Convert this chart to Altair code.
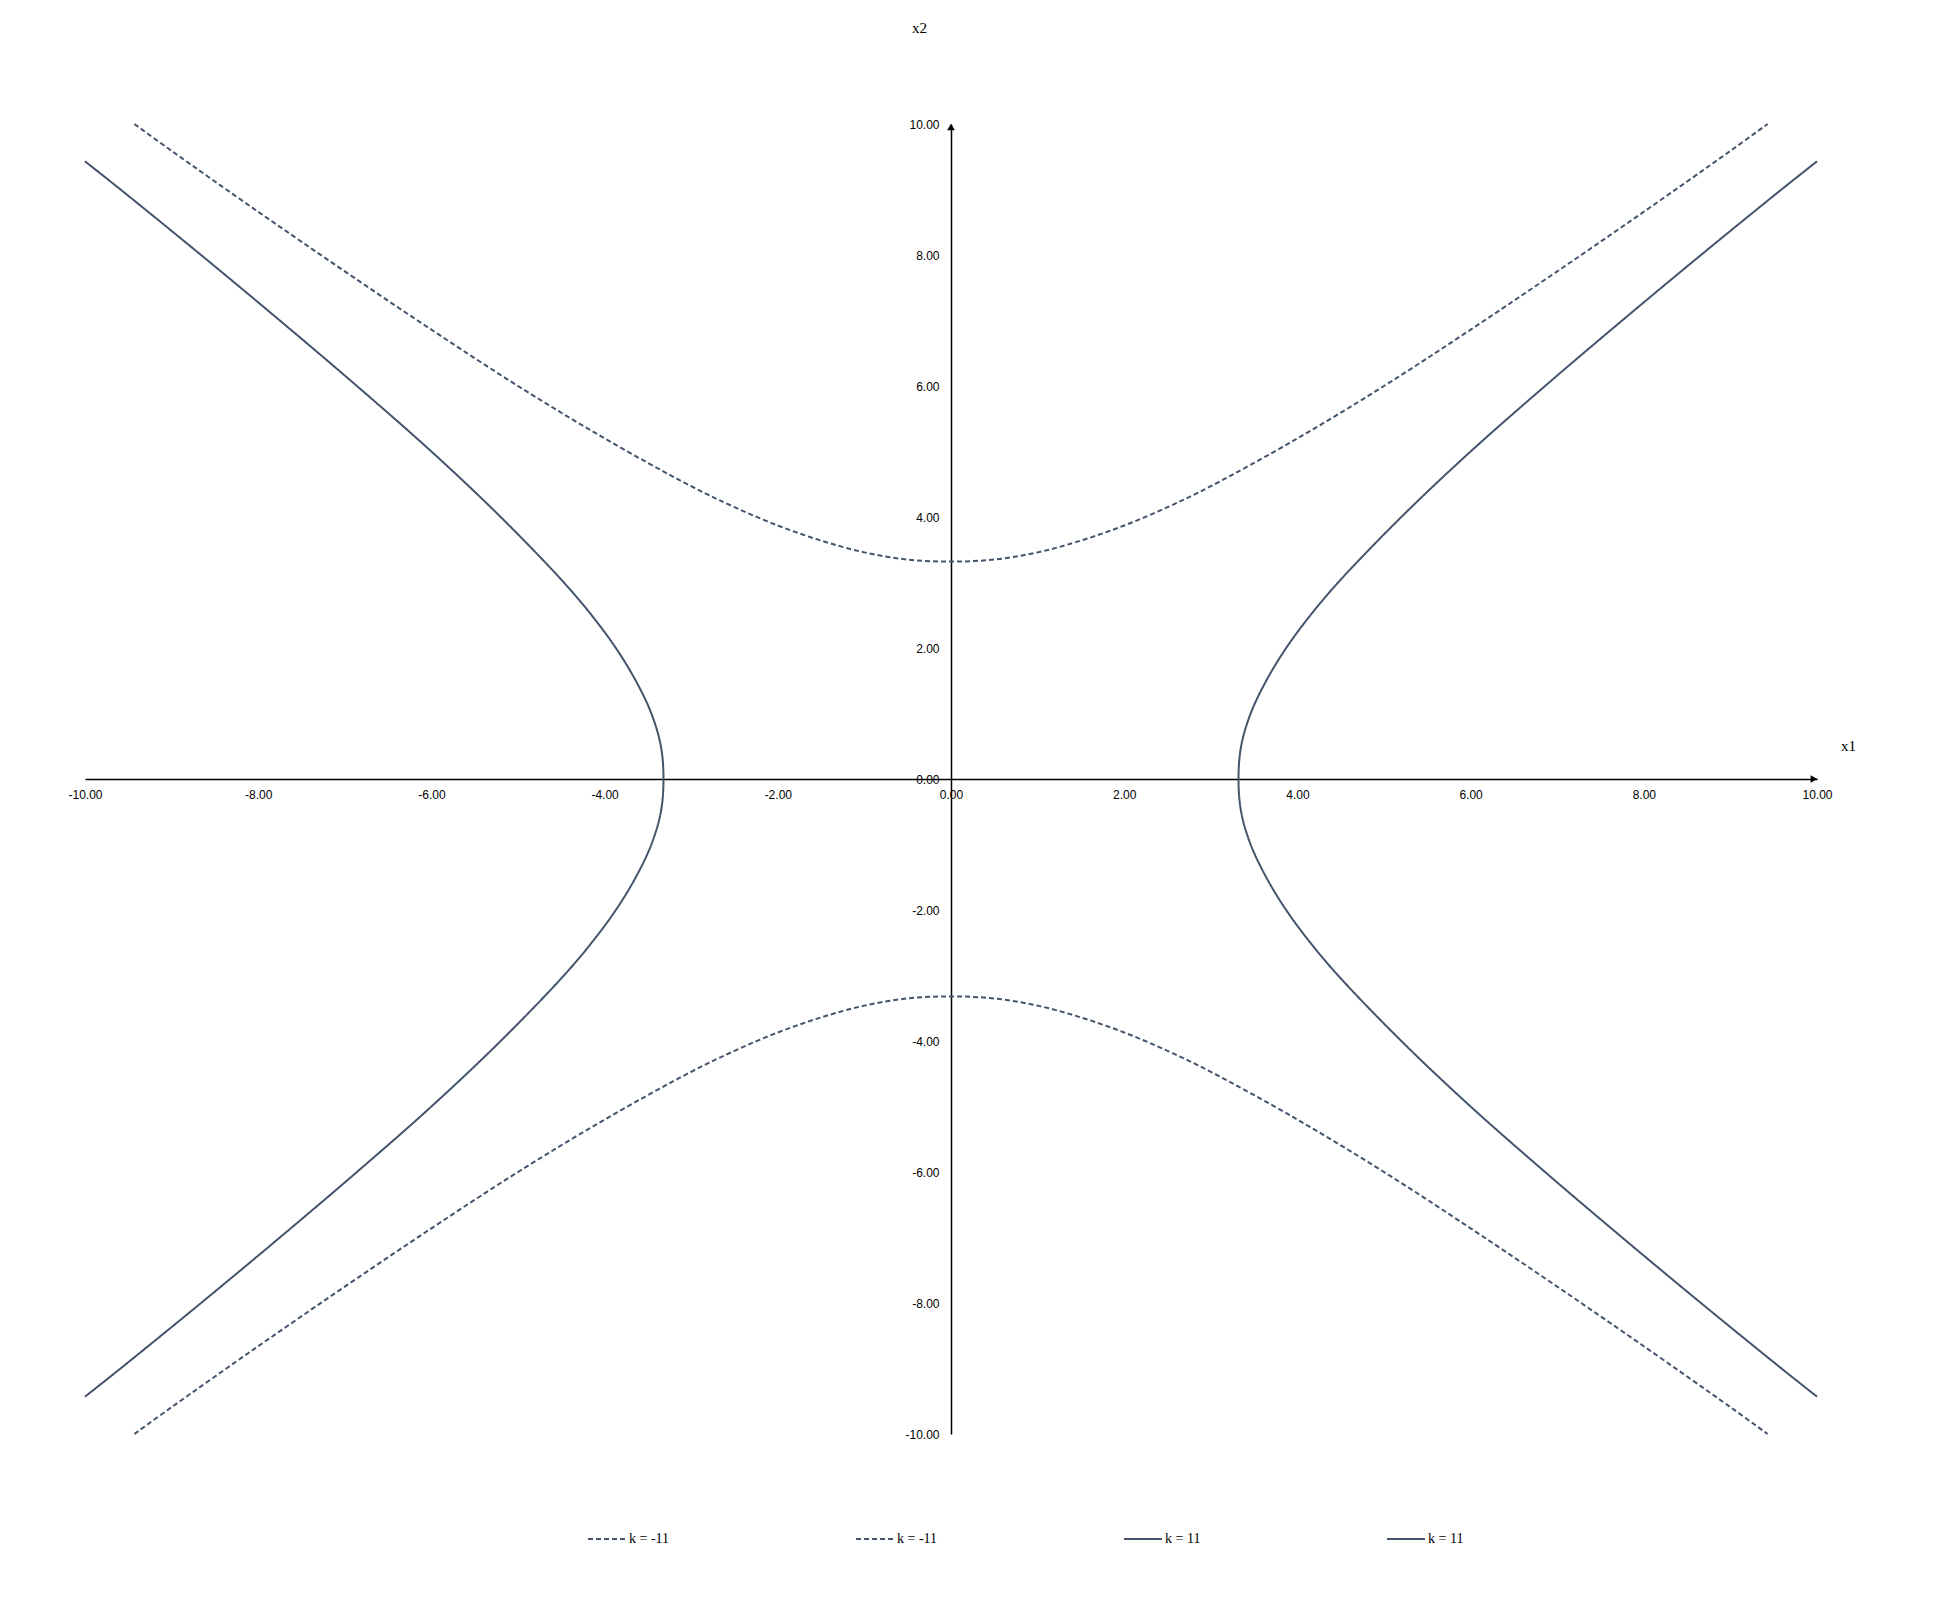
import altair as alt
import pandas as pd

# k = -11, upper branch (x1, x2)
up_x1 = [-9.43, -9.0, -8.0, -7.0, -6.0, -5.0, -4.0, -3.0, -2.5, -2.0, -1.5, -1.0, -0.5, 0.0,
         0.5, 1.0, 1.5, 2.0, 2.5, 3.0, 4.0, 5.0, 6.0, 7.0, 8.0, 9.0, 9.43]
up_x2 = [10.00, 9.59, 8.66, 7.75, 6.86, 6.00, 5.20, 4.47, 4.15, 3.87, 3.64, 3.46, 3.35, 3.32,
         3.35, 3.46, 3.64, 3.87, 4.15, 4.47, 5.20, 6.00, 6.86, 7.75, 8.66, 9.59, 10.00]
# k = -11, lower branch
lo_x1 = [-9.43, -9.0, -8.0, -7.0, -6.0, -5.0, -4.0, -3.0, -2.5, -2.0, -1.5, -1.0, -0.5, 0.0,
         0.5, 1.0, 1.5, 2.0, 2.5, 3.0, 4.0, 5.0, 6.0, 7.0, 8.0, 9.0, 9.43]
lo_x2 = [-10.00, -9.59, -8.66, -7.75, -6.86, -6.00, -5.20, -4.47, -4.15, -3.87, -3.64, -3.46, -3.35, -3.32,
         -3.35, -3.46, -3.64, -3.87, -4.15, -4.47, -5.20, -6.00, -6.86, -7.75, -8.66, -9.59, -10.00]
# k = 11, left branch
le_x1 = [-10.00, -9.59, -8.66, -7.75, -6.86, -6.00, -5.20, -4.47, -4.15, -3.87, -3.64, -3.46, -3.35, -3.32,
         -3.35, -3.46, -3.64, -3.87, -4.15, -4.47, -5.20, -6.00, -6.86, -7.75, -8.66, -9.59, -10.00]
le_x2 = [-9.43, -9.0, -8.0, -7.0, -6.0, -5.0, -4.0, -3.0, -2.5, -2.0, -1.5, -1.0, -0.5, 0.0,
         0.5, 1.0, 1.5, 2.0, 2.5, 3.0, 4.0, 5.0, 6.0, 7.0, 8.0, 9.0, 9.43]
# k = 11, right branch
ri_x1 = [10.00, 9.59, 8.66, 7.75, 6.86, 6.00, 5.20, 4.47, 4.15, 3.87, 3.64, 3.46, 3.35, 3.32,
         3.35, 3.46, 3.64, 3.87, 4.15, 4.47, 5.20, 6.00, 6.86, 7.75, 8.66, 9.59, 10.00]
ri_x2 = [-9.43, -9.0, -8.0, -7.0, -6.0, -5.0, -4.0, -3.0, -2.5, -2.0, -1.5, -1.0, -0.5, 0.0,
         0.5, 1.0, 1.5, 2.0, 2.5, 3.0, 4.0, 5.0, 6.0, 7.0, 8.0, 9.0, 9.43]

series_ids = ["a", "b", "c", "d"]
series_labels = ["k = -11", "k = -11", "k = 11", "k = 11"]
tick_values = [-10, -8, -6, -4, -2, 0, 2, 4, 6, 8, 10]

rows = []
for sid, xs, ys in zip(series_ids, [up_x1, lo_x1, le_x1, ri_x1], [up_x2, lo_x2, le_x2, ri_x2]):
    for i, (a, b) in enumerate(zip(xs, ys)):
        rows.append({"s": sid, "i": i, "x1": a, "x2": b})
df = pd.DataFrame(rows)

W, H = 1732, 1310
LINE = "#44546A"

xscale = alt.Scale(domain=[-10, 10], nice=False, zero=False)
yscale = alt.Scale(domain=[-10, 10], nice=False, zero=False)

label_expr = "(datum.value == 'a' || datum.value == 'b') ? '%s' : '%s'" % (series_labels[0], series_labels[2])
tick_expr = "replace(datum.label, '\u2212', '-')"

lines = alt.Chart(df).mark_line(color=LINE, strokeWidth=2, interpolate="catmull-rom").encode(
    x=alt.X("x1:Q", scale=xscale, axis=alt.Axis(
        values=tick_values, format=".2f", labelExpr=tick_expr, offset=-H / 2, ticks=False, grid=False,
        labelPadding=10, labelFlush=False, labelOverlap=False, labelBound=False,
        labelFont="Liberation Sans", labelFontSize=12, labelColor="black",
        domainColor="black", domainWidth=1.5,
        title="x1", titleX=1763, titleY=-34, titleAngle=0, titleAlign="center",
        titleBaseline="middle", titleFont="Liberation Serif", titleFontSize=15,
        titleFontWeight="normal", titleColor="black")),
    y=alt.Y("x2:Q", scale=yscale, axis=alt.Axis(
        values=tick_values, format=".2f", labelExpr=tick_expr, offset=-W / 2, ticks=False, grid=False,
        labelPadding=12, labelFlush=False, labelOverlap=False, labelBound=False,
        labelFont="Liberation Sans", labelFontSize=12, labelColor="black",
        domainColor="black", domainWidth=1.5,
        title="x2", titleX=-32, titleY=-97, titleAngle=0, titleAlign="center",
        titleBaseline="middle", titleFont="Liberation Serif", titleFontSize=15,
        titleFontWeight="normal", titleColor="black")),
    strokeDash=alt.StrokeDash("s:N", scale=alt.Scale(domain=series_ids,
                                                     range=[[5, 3], [5, 3], [1, 0], [1, 0]]),
                              legend=alt.Legend(
                                  orient="none", legendX=502, legendY=1395, direction="horizontal",
                                  columns=4, columnPadding=182, title=None, padding=0,
                                  labelExpr=label_expr, labelFont="Liberation Serif",
                                  labelFontSize=14, labelColor="black", labelOffset=2,
                                  symbolType="stroke", symbolSize=1444, symbolStrokeWidth=2,
                                  symbolStrokeColor=LINE)),
    order="i:Q",
)

arrow_df_x = pd.DataFrame({"x1": [10], "x2": [0]})
arrow_df_y = pd.DataFrame({"x1": [0], "x2": [10]})
arrow_x = alt.Chart(arrow_df_x).mark_point(shape="triangle-right", filled=True, color="black",
                                           size=60, opacity=1, xOffset=-3).encode(
    x=alt.X("x1:Q", scale=xscale), y=alt.Y("x2:Q", scale=yscale))
arrow_y = alt.Chart(arrow_df_y).mark_point(shape="triangle-up", filled=True, color="black",
                                           size=60, opacity=1, yOffset=3).encode(
    x=alt.X("x1:Q", scale=xscale), y=alt.Y("x2:Q", scale=yscale))

chart = alt.layer(lines, arrow_x, arrow_y).properties(
    width=W, height=H,
    autosize=alt.AutoSizeParams(type="none"),
    padding={"left": 77, "top": 116, "right": 111, "bottom": 161},
    background="white",
).configure_view(strokeWidth=0, stroke=None)

chart.save("out.html", embed_options={"renderer": "svg", "actions": False})
